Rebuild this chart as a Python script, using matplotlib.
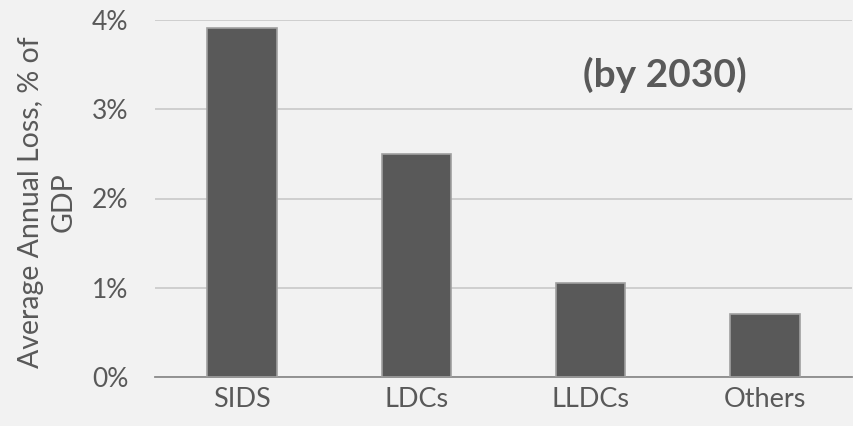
import matplotlib.pyplot as plt
from matplotlib.ticker import FuncFormatter

# average annual loss as share of GDP, by country group
groups = ["SIDS", "LDCs", "LLDCs", "Others"]
loss_pct = [3.91, 2.50, 1.05, 0.71]
y_ticks = [0, 1, 2, 3, 4]

plt.rcParams['font.family'] = ['Lato', 'DejaVu Sans']

fig = plt.figure(figsize=(8.54, 4.26), dpi=100, facecolor="#f2f2f2")
ax = fig.add_axes([155 / 854, 49 / 426, 697 / 854, 357 / 426])
ax.set_facecolor("#f2f2f2")

ax.bar(range(len(groups)), loss_pct, width=0.4, color="#595959",
       edgecolor="#a0a0a0", linewidth=1.2, zorder=3)

ax.set_xlim(-0.5, len(groups) - 0.5)
ax.set_ylim(0, 4)
ax.set_yticks(y_ticks)
ax.yaxis.set_major_formatter(FuncFormatter(lambda v, p: f"{v:.0f}%"))
ax.set_xticks(range(len(groups)))
ax.set_xticklabels(groups)
ax.tick_params(axis="both", length=0, colors="#595959")
ax.tick_params(axis="y", labelsize=19, pad=19)
ax.tick_params(axis="x", labelsize=19.5, pad=7)

ax.grid(axis="y", color="#c8c8c8", linewidth=1.2, zorder=0)
for side in ["top", "right", "left"]:
    ax.spines[side].set_visible(False)
ax.spines["bottom"].set_color("#8c8c8c")
ax.spines["bottom"].set_linewidth(1.3)

ax.set_ylabel("Average Annual Loss, % of\nGDP", fontsize=20.5, color="#595959",
              linespacing=1.3)
ax.yaxis.set_label_coords(-0.113, 0.49)

ax.text(0.732, 0.846, "(by 2030)", transform=ax.transAxes, ha="center", va="center",
        fontsize=28, fontweight="bold", color="#595959")

fig.savefig("out.png", dpi=100, facecolor=fig.get_facecolor())
